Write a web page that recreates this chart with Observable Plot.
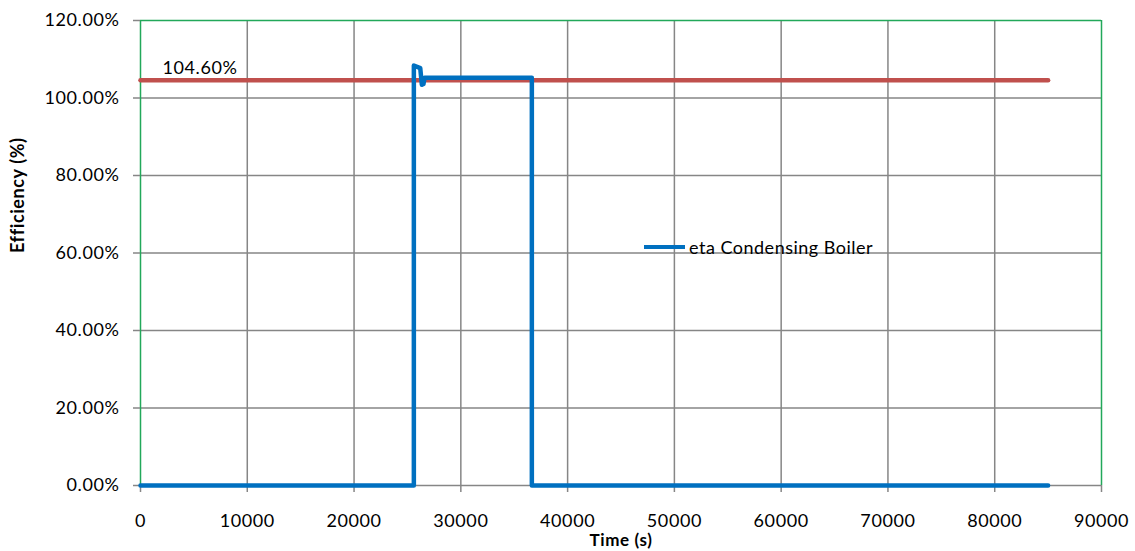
<!DOCTYPE html>
<html>
<head>
<meta charset="utf-8">
<script src="https://cdn.jsdelivr.net/npm/d3@7"></script>
<script src="https://cdn.jsdelivr.net/npm/@observablehq/plot@0.6"></script>
<style>
  html, body { margin: 0; padding: 0; background: #fff; }
  #wrap { position: relative; width: 1135px; height: 551px; font-family: Lato, "Open Sans", sans-serif; }
  #legend { position: absolute; left: 644px; top: 236px; display: flex; align-items: center; font-size: 18px; letter-spacing: 0.5px; color: #000; white-space: nowrap; }
  #legend .sw { width: 41px; height: 4px; background: #0070C0; margin-right: 4px; }
</style>
</head>
<body>
<div id="wrap"><div id="chart"></div><div id="legend"><span class="sw"></span><span>eta Condensing Boiler</span></div></div>
<script>
// Blue series: eta Condensing Boiler (time s, efficiency %)
const etaTime  = [0, 25600, 25600, 26200, 26350, 26500, 26600, 36650, 36650, 85000];
const etaValue = [0, 0, 108.4, 107.7, 103.4, 103.6, 105.2, 105.2, 0, 0];
// Red reference line
const refTime  = [0, 85000];
const refValue = [104.6, 104.6];
const refLabel = "104.60%";
// Axes
const xTicks = [0, 10000, 20000, 30000, 40000, 50000, 60000, 70000, 80000, 90000];
const yTicks = [0, 20, 40, 60, 80, 100, 120];
const xGrid = [10000, 20000, 30000, 40000, 50000, 60000, 70000, 80000];
const yGrid = [20, 40, 60, 80, 100];

const eta = etaTime.map((t, i) => ({t, v: etaValue[i]}));
const ref = refTime.map((t, i) => ({t, v: refValue[i]}));

const gray = "#868686";
const green = "#22a85a";
const font = "Lato, 'Open Sans', sans-serif";

const chart = Plot.plot({
  width: 1135,
  height: 551,
  marginLeft: 140,
  marginRight: 34,
  marginTop: 20,
  marginBottom: 66,
  style: {fontFamily: font, fontSize: "18px", letterSpacing: "0.6px", color: "#000", background: "#fff"},
  x: {domain: [0, 90000]},
  y: {domain: [0, 120]},
  marks: [
    Plot.ruleX(xGrid, {stroke: gray, strokeWidth: 1.5}),
    Plot.ruleY(yGrid, {stroke: gray, strokeWidth: 1.5}),
    Plot.ruleY([0], {stroke: gray, strokeWidth: 1.5}),
    Plot.ruleY([120], {stroke: green, strokeWidth: 1.5}),
    Plot.ruleX([0, 90000], {stroke: green, strokeWidth: 1.5}),
    Plot.axisX({ticks: xTicks, tickFormat: d => String(d), tickSize: 7, tickPadding: 22, stroke: gray, strokeWidth: 1.5, label: null, fontSize: 18}),
    Plot.axisY({ticks: yTicks, tickFormat: d => d.toFixed(2) + "%", tickSize: 7, tickPadding: 14, stroke: gray, strokeWidth: 1.5, label: null, fontSize: 18}),
    Plot.line(ref, {x: "t", y: "v", stroke: "#C0504D", strokeWidth: 4.5}),
    Plot.line(eta, {x: "t", y: "v", stroke: "#0070C0", strokeWidth: 4.5, strokeLinejoin: "round"}),
    Plot.text([ref[0]], {x: "t", y: "v", text: () => refLabel, textAnchor: "start", dx: 22, dy: -12, fontSize: 18}),
    Plot.text(["Time (s)"], {frameAnchor: "bottom", dy: 60, fontWeight: "bold", fontSize: 17, text: d => d}),
    Plot.text(["Efficiency (%)"], {frameAnchor: "left", dx: -122, rotate: -90, fontWeight: "bold", fontSize: 18, text: d => d})
  ]
});
document.getElementById("chart").appendChild(chart);
</script>
</body>
</html>
